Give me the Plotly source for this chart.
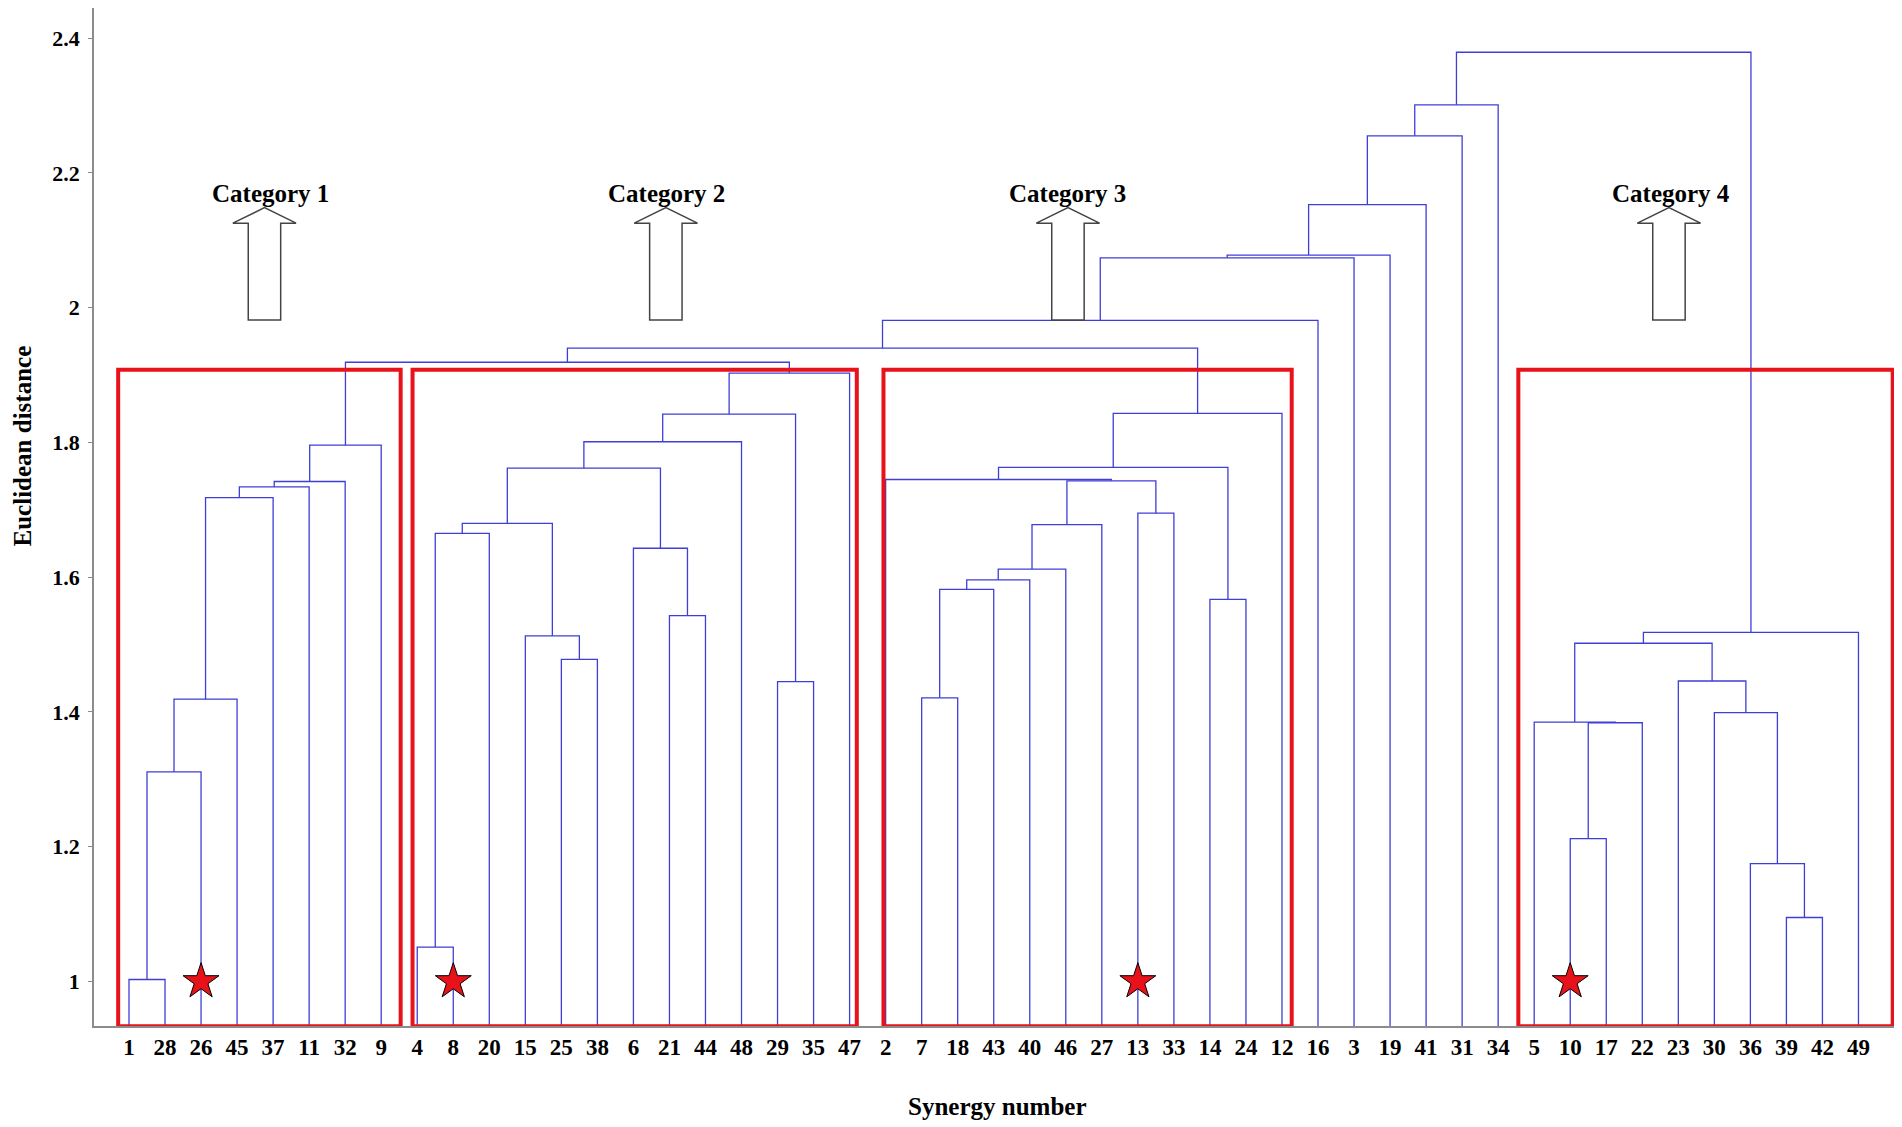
import plotly.graph_objs as go

# leaf order along the x axis (synergy numbers)
leaves = [1, 28, 26, 45, 37, 11, 32, 9,
          4, 8, 20, 15, 25, 38, 6, 21, 44, 48, 29, 35, 47,
          2, 7, 18, 43, 40, 46, 27, 13, 33, 14, 24, 12,
          16, 3, 19, 41, 31, 34,
          5, 10, 17, 22, 23, 30, 36, 39, 42, 49]

# merges: (node name, left child, right child, euclidean distance)
merges_cat1 = [("a1", 1, 28, 1.003), ("a2", "a1", 26, 1.311), ("a3", "a2", 45, 1.419),
               ("a4", "a3", 37, 1.718), ("a5", "a4", 11, 1.734), ("a6", "a5", 32, 1.742),
               ("a7", "a6", 9, 1.796)]
merges_cat2 = [("b1", 4, 8, 1.051), ("b2", "b1", 20, 1.665), ("b3", 25, 38, 1.478),
               ("b4", 15, "b3", 1.513), ("b5", "b2", "b4", 1.680), ("b6", 21, 44, 1.543),
               ("b7", 6, "b6", 1.643), ("b8", "b5", "b7", 1.762), ("b9", "b8", 48, 1.801),
               ("b10", 29, 35, 1.445), ("b11", "b9", "b10", 1.842), ("b12", "b11", 47, 1.903)]
merges_cat3 = [("c1", 7, 18, 1.421), ("c2", "c1", 43, 1.582), ("c3", "c2", 40, 1.596),
               ("c4", "c3", 46, 1.612), ("c5", "c4", 27, 1.678), ("c6", 13, 33, 1.695),
               ("c7", "c5", "c6", 1.743), ("c8", 2, "c7", 1.745), ("c9", 14, 24, 1.567),
               ("c10", "c8", "c9", 1.763), ("c11", "c10", 12, 1.843)]
merges_cat4 = [("d1", 10, 17, 1.212), ("d2", "d1", 22, 1.384), ("d3", 5, "d2", 1.385),
               ("d4", 39, 42, 1.095), ("d5", 36, "d4", 1.175), ("d6", 30, "d5", 1.399),
               ("d7", 23, "d6", 1.446), ("d8", "d3", "d7", 1.502), ("d9", "d8", 49, 1.518)]
merges_top = [("e1", "a7", "b12", 1.919), ("e2", "e1", "c11", 1.940), ("e3", "e2", 16, 1.981),
              ("e4", "e3", 3, 2.074), ("e5", "e4", 19, 2.078), ("e6", "e5", 41, 2.153),
              ("e7", "e6", 31, 2.255), ("e8", "e7", 34, 2.301), ("e9", "e8", "d9", 2.379)]

star_leaves = [26, 8, 13, 10]
star_y = [1.0, 1.0, 1.0, 1.0]

categories = ["Category 1", "Category 2", "Category 3", "Category 4"]
y_ticks = [1, 1.2, 1.4, 1.6, 1.8, 2, 2.2, 2.4]

FONT = "Liberation Serif, Times New Roman, serif"
BLUE = "#3f3fd8"
RED = "#e8121a"
y_min, y_max = 0.934, 2.4447

# build the dendrogram line segments
px = {leaf: i for i, leaf in enumerate(leaves)}
py = {leaf: y_min for leaf in leaves}
xs, ys = [], []
for name, a, b, h in merges_cat1 + merges_cat2 + merges_cat3 + merges_cat4 + merges_top:
    xs += [px[a], px[a], px[b], px[b], None]
    ys += [py[a], h, h, py[b], None]
    px[name] = (px[a] + px[b]) / 2
    py[name] = h

tree = go.Scatter(x=xs, y=ys, mode="lines", line=dict(color=BLUE, width=1.3),
                  hoverinfo="skip")
stars = go.Scatter(x=[leaves.index(s) for s in star_leaves], y=star_y, mode="markers",
                   marker=dict(symbol="star", size=27, color=RED,
                               line=dict(color="black", width=1)))

# red boxes round the four categories
box_x0 = [-0.30, 7.87, 20.94, 38.56]
box_x1 = [7.54, 20.20, 32.27, 48.95]
shapes = []
for x0, x1 in zip(box_x0, box_x1):
    shapes.append(dict(type="rect", xref="x", yref="y", x0=x0, x1=x1, y0=0.9335, y1=1.908,
                       line=dict(color=RED, width=4)))

# block arrows with labels above
arrow_x = [3.76, 14.90, 26.06, 42.74]
label_x = [3.93, 14.93, 26.06, 42.81]
annotations = []
for c, lx, txt in zip(arrow_x, label_x, categories):
    path = ("M {a},1.9818 L {a},2.1254 L {b},2.1254 L {c},2.1484 L {d},2.1254 "
            "L {e},2.1254 L {e},1.9818 Z").format(a=c - 0.45, b=c - 0.877, c=c,
                                                 d=c + 0.877, e=c + 0.45)
    shapes.append(dict(type="path", xref="x", yref="y", path=path, fillcolor="white",
                       line=dict(color="#444444", width=1.5)))
    annotations.append(dict(x=lx, y=2.170, xref="x", yref="y", text=txt, showarrow=False,
                            font=dict(family=FONT, size=25, color="black", weight="bold")))

annotations.append(dict(x=-0.0395, y=0.570, xref="paper", yref="paper",
                        xanchor="center", yanchor="middle",
                        text="Euclidean distance", textangle=-90, showarrow=False,
                        font=dict(family=FONT, size=25, color="black", weight="bold")))
annotations.append(dict(x=0.5006, y=-0.0786, xref="paper", yref="paper",
                        xanchor="center", yanchor="middle",
                        text="Synergy number", showarrow=False,
                        font=dict(family=FONT, size=25, color="black", weight="bold")))

# page body has an 8px margin, so the figure is 8px smaller than the window
layout = go.Layout(
    width=1894, height=1119,
    margin=dict(l=86, r=4, t=0, b=101),
    plot_bgcolor="white", paper_bgcolor="white",
    showlegend=False,
    xaxis=dict(range=[-0.971, 49.097], tickvals=list(range(len(leaves))),
               ticktext=[str(l) for l in leaves], ticks="", showgrid=False,
               zeroline=False, showline=True, linecolor="#8c8c8c", linewidth=1.5,
               ticklabelstandoff=0,
               tickfont=dict(family=FONT, size=23, color="black", weight="bold")),
    yaxis=dict(range=[y_min, y_max], tickvals=y_ticks, ticktext=[str(t) for t in y_ticks],
               ticks="outside", ticklen=4, tickcolor="#8c8c8c", showgrid=False,
               zeroline=False, showline=True, linecolor="#8c8c8c", linewidth=1.5,
               ticklabelstandoff=4,
               tickfont=dict(family=FONT, size=22, color="black", weight="bold")),
    shapes=shapes,
    annotations=annotations,
)

fig = go.Figure(data=[tree, stars], layout=layout)
fig.write_html("out.html")
